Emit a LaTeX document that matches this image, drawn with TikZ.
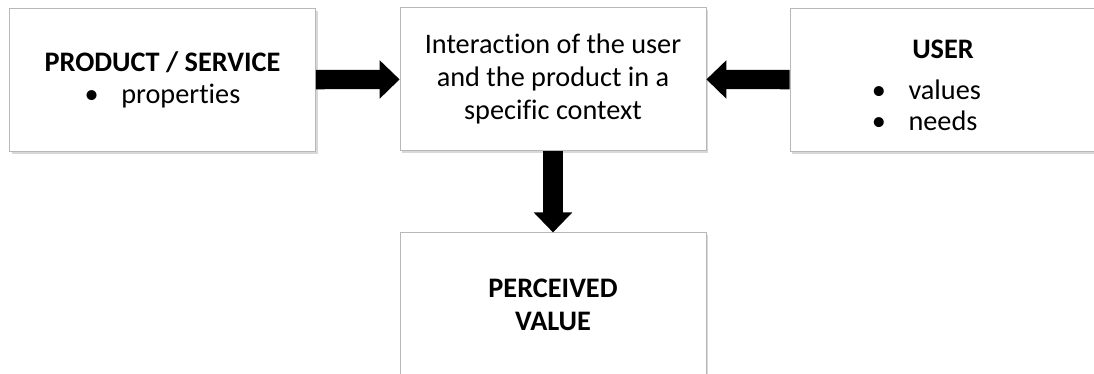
\documentclass[tikz,border=0pt]{standalone}
\usepackage{fontspec}
\setmainfont{Carlito}[Ligatures=NoCommon]
\usetikzlibrary{arrows.meta}
\usetikzlibrary{shadows}
\colorlet{myborder}{black!28}
\colorlet{myshadow}{black!30}
\tikzset{
    box/.style={draw=myborder, line width=0.6pt, fill=white,
        minimum width=229.5pt, minimum height=107.5pt, align=center,
        font=\fontsize{21.2}{25}\selectfont,
        drop shadow={shadow xshift=1.5pt, shadow yshift=-1.8pt, fill=myshadow}},
    blockarrow/.style={line width=14.5pt, -{Triangle[width=28pt, length=15pt]}}
}

\begin{document}
\begin{tikzpicture}[x=0.75pt, y=-0.75pt]

    \useasboundingbox (0, 0) rectangle (1094, 374);

    \node[box] (product) at (162.5, 80) {\textbf{PRODUCT / SERVICE}\\[-1.5pt] \textbullet\hspace{0.8em}properties};
    \node[box] (interaction) at (553, 79) {Interaction of the user\\ and the product in a\\ specific context};
    \node[box] (user) at (943, 80) {\rule{0pt}{29pt}\textbf{USER}\\[5.75pt]
        \renewcommand{\arraystretch}{0.945}%
        \begin{tabular}[t]{@{}l@{}}\textbullet\hspace{0.8em}values\\ \textbullet\hspace{0.8em}needs\end{tabular}\hspace*{25pt}};
    \node[box] (value) at (553, 304.5) {\textbf{PERCEIVED}\\ \textbf{VALUE}};

    \draw[blockarrow] (product) -- (interaction);
    \draw[blockarrow] (user) -- (interaction);
    \draw[blockarrow] (interaction) -- (value);

\end{tikzpicture}
\end{document}
